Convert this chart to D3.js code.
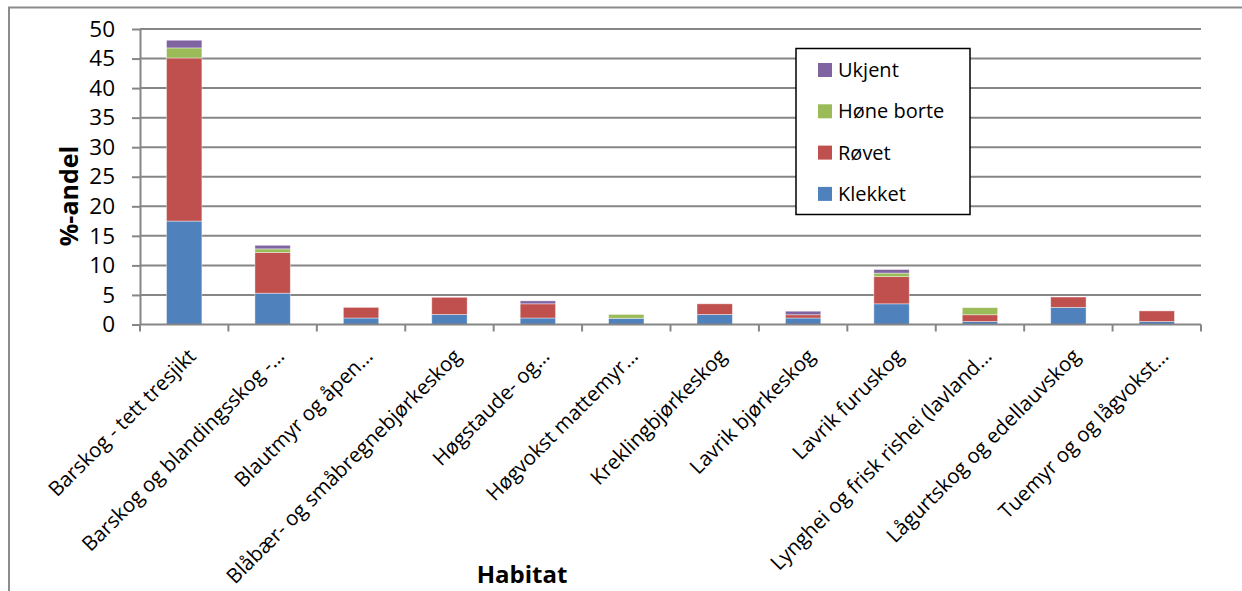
<!DOCTYPE html>
<html>
<head>
<meta charset="utf-8">
<script src="https://cdn.jsdelivr.net/npm/d3@7"></script>
<style>
  html, body { margin: 0; padding: 0; background: #fff; }
  svg { display: block; font-family: "Open Sans", "Noto Sans", sans-serif; }
</style>
</head>
<body>
<svg id="chart" width="1242" height="591"></svg>
<script>
// Habitat categories (x axis)
const categories = [
  "Barskog - tett tresjikt",
  "Barskog og blandingsskog -…",
  "Blautmyr og åpen…",
  "Blåbær- og småbregnebjørkeskog",
  "Høgstaude- og…",
  "Høgvokst mattemyr…",
  "Kreklingbjørkeskog",
  "Lavrik bjørkeskog",
  "Lavrik furuskog",
  "Lynghei og frisk rishei (lavland…",
  "Lågurtskog og edellauvskog",
  "Tuemyr og og lågvokst…"
];

// Share (%) of nests per outcome, stacked bottom to top
const klekket   = [17.5, 5.3, 1.1, 1.7, 1.1, 1.05, 1.7, 1.1, 3.5, 0.5, 2.9, 0.5];
const rovet     = [27.6, 6.9, 1.8, 2.9, 2.4, 0.0,  1.8, 0.55, 4.6, 1.15, 1.75, 1.8];
const honeBorte = [1.7,  0.6, 0.0, 0.0, 0.0, 0.65, 0.0, 0.0, 0.6, 1.2, 0.0, 0.0];
const ukjent    = [1.3,  0.6, 0.0, 0.0, 0.5, 0.0,  0.0, 0.6, 0.6, 0.0, 0.0, 0.0];

const seriesNames  = ["Klekket", "Røvet", "Høne borte", "Ukjent"];
const seriesValues = [klekket, rovet, honeBorte, ukjent];
const seriesColors = ["#4F81BD", "#C0504D", "#9BBB59", "#8064A2"];

const yTicks = [0, 5, 10, 15, 20, 25, 30, 35, 40, 45, 50];

const svg = d3.select("#chart");
const plot = { left: 140, right: 1201, top: 29, bottom: 324.5 };
const gridColor = "#868686";

// Outer chart frame
svg.append("path")
  .attr("d", "M9,600 L9,7.5 L1250,7.5")
  .attr("fill", "none")
  .attr("stroke", "#8c8c8c")
  .attr("stroke-width", 2);

const x = d3.scaleBand()
  .domain(categories)
  .range([plot.left, plot.right])
  .paddingInner(0.6)
  .paddingOuter(0.3);

const xBand = d3.scaleBand().domain(categories).range([plot.left, plot.right]);

const y = d3.scaleLinear().domain([0, 50]).range([plot.bottom, plot.top]);

// Value axis with left tick marks
const yAxis = svg.append("g")
  .attr("transform", `translate(${plot.left},0)`)
  .call(d3.axisLeft(y).tickValues(yTicks).tickSize(8).tickSizeOuter(0).tickPadding(17));
yAxis.select(".domain").attr("stroke", gridColor).attr("stroke-width", 2);
yAxis.selectAll(".tick line").attr("stroke", gridColor).attr("stroke-width", 2);
yAxis.selectAll(".tick text")
  .attr("font-size", 22.5)
  .attr("fill", "#000")
  .attr("font-family", "Open Sans");

// Horizontal gridlines
svg.append("g")
  .selectAll("line")
  .data(yTicks.filter(t => t > 0))
  .join("line")
  .attr("x1", plot.left)
  .attr("x2", plot.right)
  .attr("y1", d => y(d))
  .attr("y2", d => y(d))
  .attr("stroke", gridColor)
  .attr("stroke-width", 2);

// Stacked bars
const rows = categories.map((c, i) => {
  const r = { cat: c };
  seriesNames.forEach((s, k) => { r[s] = seriesValues[k][i]; });
  return r;
});
const stacked = d3.stack().keys(seriesNames)(rows);

svg.append("g")
  .selectAll("g")
  .data(stacked)
  .join("g")
  .attr("fill", (d, k) => seriesColors[k])
  .selectAll("rect")
  .data(d => d.filter(p => p[1] - p[0] > 0))
  .join("rect")
  .attr("x", p => x(p.data.cat))
  .attr("width", x.bandwidth())
  .attr("y", p => y(p[1]))
  .attr("height", p => y(p[0]) - y(p[1]))
  .attr("stroke", "#ffffff")
  .attr("stroke-opacity", 0.5)
  .attr("stroke-width", 0.8);

// Category axis
const xAxis = svg.append("g")
  .attr("transform", `translate(0,${plot.bottom})`);
xAxis.append("line")
  .attr("x1", plot.left).attr("x2", plot.right)
  .attr("stroke", gridColor).attr("stroke-width", 2);
const boundaries = categories.map(c => xBand(c)).concat([plot.right]);
xAxis.selectAll("line.tick")
  .data(boundaries)
  .join("line")
  .attr("class", "tick")
  .attr("x1", d => d).attr("x2", d => d)
  .attr("y1", 0).attr("y2", 7)
  .attr("stroke", gridColor).attr("stroke-width", 2);

svg.append("g")
  .selectAll("text")
  .data(categories)
  .join("text")
  .attr("transform", c => `translate(${xBand(c) + xBand.bandwidth() / 2 + 13},${plot.bottom + 33}) rotate(-45)`)
  .attr("text-anchor", "end")
  .attr("font-size", 20.5)
  .attr("fill", "#000")
  .text(c => c);

// Axis titles
svg.append("text")
  .attr("transform", "translate(78,196) rotate(-90)")
  .attr("text-anchor", "middle")
  .attr("font-size", 25)
  .attr("font-weight", "bold")
  .text("%-andel");

svg.append("text")
  .attr("x", 522)
  .attr("y", 583)
  .attr("text-anchor", "middle")
  .attr("font-size", 24)
  .attr("font-weight", "bold")
  .text("Habitat");

// Legend (top entry is the top of the stack)
const legend = svg.append("g");
legend.append("rect")
  .attr("x", 796).attr("y", 48.5)
  .attr("width", 174).attr("height", 166)
  .attr("fill", "#fff")
  .attr("stroke", "#000")
  .attr("stroke-width", 1.5);
const legendOrder = [3, 2, 1, 0];
const entries = legend.selectAll("g")
  .data(legendOrder)
  .join("g")
  .attr("transform", (k, i) => `translate(818,${70 + i * 41.3})`);
entries.append("rect")
  .attr("x", 0).attr("y", -7)
  .attr("width", 14).attr("height", 14)
  .attr("fill", k => seriesColors[k]);
entries.append("text")
  .attr("x", 20).attr("y", 0)
  .attr("dy", "0.35em")
  .attr("font-size", 20)
  .attr("fill", "#000")
  .text(k => seriesNames[k]);
</script>
</body>
</html>
